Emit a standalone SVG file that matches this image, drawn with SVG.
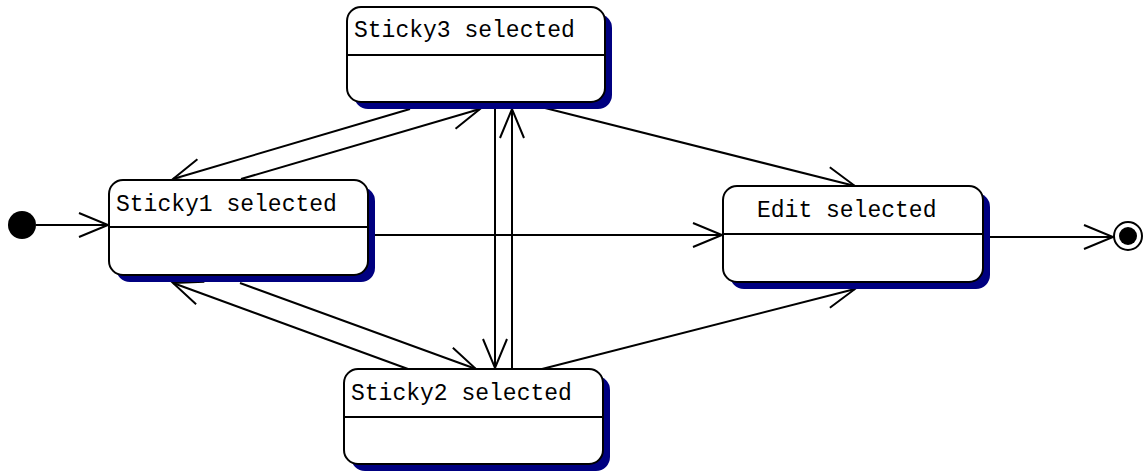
<svg xmlns="http://www.w3.org/2000/svg" width="1148" height="472" viewBox="0 0 1148 472">
<style>
.shadow{fill:#000080;stroke:none}
.box{fill:#fff;stroke:#000;stroke-width:2}
.div{stroke:#000;stroke-width:2}
.lbl{font-family:"Liberation Mono","Courier New",monospace;font-size:23px;fill:#000}
.edge{fill:none;stroke:#000;stroke-width:2;marker-end:url(#arr)}
</style>
<defs>
<marker id="arr" markerUnits="userSpaceOnUse" markerWidth="40" markerHeight="40" viewBox="-35 -20 40 40" refX="0" refY="0" orient="auto" overflow="visible">
<path d="M-29,-12 L0,0 L-29,12" fill="none" stroke="#000" stroke-width="2"/>
</marker>
</defs>
<rect width="1148" height="472" fill="#fff"/>
<g id="connectors">
<line class="edge" x1="36" y1="225" x2="108" y2="225"/>
<line class="edge" x1="410" y1="109" x2="173" y2="179"/>
<line class="edge" x1="241" y1="179" x2="480" y2="109"/>
<line class="edge" x1="495" y1="109" x2="495" y2="368"/>
<line class="edge" x1="512" y1="368" x2="512" y2="109"/>
<line class="edge" x1="240" y1="283" x2="476" y2="369"/>
<line class="edge" x1="408" y1="369" x2="173" y2="283"/>
<line class="edge" x1="545" y1="108" x2="855" y2="186"/>
<line class="edge" x1="542" y1="369" x2="855" y2="289"/>
<line class="edge" x1="368" y1="235" x2="722" y2="235"/>
<line class="edge" x1="983" y1="237" x2="1113" y2="237"/>
</g>
<g id="initial">
<circle cx="22" cy="225" r="14" fill="#000"/>
</g>
<g id="final">
<circle cx="1128" cy="236" r="14" fill="#fff" stroke="#000" stroke-width="2"/>
<circle cx="1128" cy="236" r="9" fill="#000"/>
</g>
<g id="sticky3">
<rect class="shadow" x="354" y="14" width="258" height="95" rx="14"/>
<rect class="box" x="347" y="7" width="258" height="95" rx="14"/>
<line class="div" x1="347" y1="55" x2="605" y2="55"/>
<text class="lbl" x="354" y="37">Sticky3 selected</text>
</g>
<g id="sticky1">
<rect class="shadow" x="116" y="187" width="259" height="95" rx="14"/>
<rect class="box" x="109" y="180" width="259" height="95" rx="14"/>
<line class="div" x1="109" y1="227" x2="368" y2="227"/>
<text class="lbl" x="116" y="211">Sticky1 selected</text>
</g>
<g id="sticky2">
<rect class="shadow" x="351" y="376" width="259" height="95" rx="14"/>
<rect class="box" x="344" y="369" width="259" height="95" rx="14"/>
<line class="div" x1="344" y1="417" x2="603" y2="417"/>
<text class="lbl" x="351" y="400">Sticky2 selected</text>
</g>
<g id="edit">
<rect class="shadow" x="730" y="193" width="260" height="96" rx="14"/>
<rect class="box" x="723" y="186" width="260" height="96" rx="14"/>
<line class="div" x1="723" y1="234" x2="983" y2="234"/>
<text class="lbl" x="757" y="217">Edit selected</text>
</g>
</svg>
